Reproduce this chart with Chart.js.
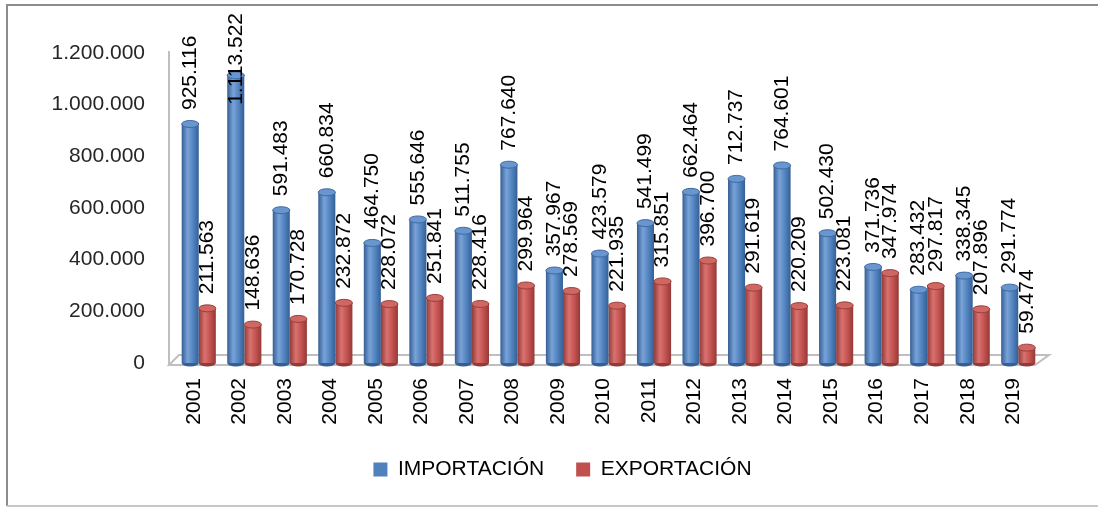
<!DOCTYPE html>
<html>
<head>
<meta charset="utf-8">
<script src="https://cdn.jsdelivr.net/npm/chart.js@4/dist/chart.umd.min.js"></script>
<style>
html,body{margin:0;padding:0;background:#fff;}
canvas{display:block;}
</style>
</head>
<body>
<canvas id="c" width="1098" height="507"></canvas>
<script>
const categories = ['2001','2002','2003','2004','2005','2006','2007','2008','2009','2010','2011','2012','2013','2014','2015','2016','2017','2018','2019'];
const importacion = [925116,1113522,591483,660834,464750,555646,511755,767640,357967,423579,541499,662464,712737,764601,502430,371736,283432,338345,291774];
const exportacion = [211563,148636,170728,232872,228072,251841,228416,299964,278569,221935,315851,396700,291619,220209,223081,347974,297817,207896,59474];
const seriesNames = ['IMPORTACIÓN','EXPORTACIÓN'];
const yTickValues = [0,200000,400000,600000,800000,1000000,1200000];

function fmt(v){ return String(Math.round(v)).replace(/\B(?=(\d{3})+(?!\d))/g,'.'); }

const palettes = [
  {base:'#4F81BD', dark:'#355f94', light:'#79a3d8', cap:'#6a96cf', capEdge:'#3d6aa3'},
  {base:'#C0504D', dark:'#923a38', light:'#d9726f', cap:'#cf6763', capEdge:'#9c3f3c'}
];

function barGradient(ctx, dsIndex){
  const chart = ctx.chart;
  const p = palettes[dsIndex];
  const xs = chart.scales && chart.scales.x;
  if (!chart.chartArea || !xs || ctx.dataIndex === undefined) return p.base;
  const cw = (xs.right - xs.left) / categories.length;
  const w = cw * 0.75 / 2;
  const cx = xs.getPixelForValue(ctx.dataIndex);
  const x0 = dsIndex === 0 ? cx - w : cx;
  const g = chart.ctx.createLinearGradient(x0, 0, x0 + w, 0);
  g.addColorStop(0, p.dark);
  g.addColorStop(0.35, p.light);
  g.addColorStop(0.7, p.base);
  g.addColorStop(1, p.dark);
  return g;
}

const decor = {
  id:'decor',
  afterLayout(chart){
    if (chart.legend) { chart.legend.left += 22; chart.legend.right += 22; }
  },
  beforeDraw(chart){
    const c = chart.ctx;
    c.save();
    c.fillStyle = '#fff';
    c.fillRect(0,0,chart.width,chart.height);
    c.strokeStyle = '#8c8c8c';
    c.lineWidth = 2;
    c.beginPath();
    c.moveTo(7, 506); c.lineTo(7, 5); c.lineTo(1098, 5);
    c.stroke();
    c.strokeStyle = '#c8c8c8';
    c.beginPath();
    c.moveTo(7, 506); c.lineTo(1098, 506);
    c.stroke();
    c.restore();
  },
  beforeDatasetsDraw(chart){
    const c = chart.ctx;
    const a = chart.chartArea;
    const yb = chart.scales.y.getPixelForValue(0);
    c.save();
    c.strokeStyle = '#bfbfbf';
    c.lineWidth = 2;
    c.beginPath();
    c.moveTo(a.left - 7, a.top - 2);
    c.lineTo(a.left - 7, yb + 2);
    c.stroke();
    c.fillStyle = '#ffffff';
    c.beginPath();
    c.moveTo(a.left - 7, yb + 2);
    c.lineTo(a.right - 6, yb + 2);
    c.lineTo(a.right + 8, yb - 8);
    c.lineTo(a.left + 3, yb - 8);
    c.closePath();
    c.fill();
    c.stroke();
    c.restore();
  },
  afterDatasetsDraw(chart){
    const c = chart.ctx;
    c.save();
    chart.data.datasets.forEach((ds, di) => {
      const meta = chart.getDatasetMeta(di);
      const p = palettes[di];
      meta.data.forEach((bar) => {
        const w = bar.width;
        const rx = w / 2, ry = 3.5;
        c.fillStyle = p.dark;
        c.beginPath();
        c.ellipse(bar.x, bar.base, rx, ry, 0, 0, Math.PI);
        c.fill();
        c.fillStyle = p.cap;
        c.strokeStyle = p.capEdge;
        c.lineWidth = 1;
        c.beginPath();
        c.ellipse(bar.x, bar.y, rx, ry, 0, 0, Math.PI * 2);
        c.fill();
        c.stroke();
      });
    });
    c.font = '21px "Liberation Sans", Arial, sans-serif';
    c.fillStyle = '#000';
    c.textAlign = 'left';
    c.textBaseline = 'middle';
    chart.data.datasets.forEach((ds, di) => {
      const meta = chart.getDatasetMeta(di);
      meta.data.forEach((bar, i) => {
        const txt = fmt(ds.data[i]);
        const tw = c.measureText(txt).width;
        let start = bar.y - 14;
        if (start - tw < 13) start = 13 + tw;
        c.save();
        c.translate(bar.x, start);
        c.rotate(-Math.PI / 2);
        c.fillText(txt, 0, 0);
        c.restore();
      });
    });
    c.restore();
  }
};

Chart.defaults.font.family = '"Liberation Sans", Arial, sans-serif';
Chart.defaults.font.size = 21;
Chart.defaults.color = '#262626';

new Chart(document.getElementById('c'), {
  type: 'bar',
  data: {
    labels: categories,
    datasets: [
      { label: seriesNames[0], data: importacion, backgroundColor: (ctx) => barGradient(ctx, 0), borderWidth: 0 },
      { label: seriesNames[1], data: exportacion, backgroundColor: (ctx) => barGradient(ctx, 1), borderWidth: 0 }
    ]
  },
  options: {
    responsive: false,
    animation: false,
    events: [],
    categoryPercentage: 0.75,
    barPercentage: 1.0,
    layout: { padding: { left: 40, right: 57, top: 53, bottom: 17 } },
    plugins: {
      tooltip: { enabled: false },
      legend: {
        position: 'bottom',
        labels: {
          boxWidth: 14, boxHeight: 14, padding: 32,
          color: '#1a1a1a',
          font: { size: 21 },
          generateLabels(chart){
            return chart.data.datasets.map((ds, i) => ({
              text: ds.label, fillStyle: palettes[i].base, strokeStyle: palettes[i].base,
              lineWidth: 0, hidden: false, datasetIndex: i
            }));
          }
        }
      }
    },
    scales: {
      x: {
        grid: { display: false, drawTicks: false },
        border: { display: false },
        ticks: { minRotation: 90, maxRotation: 90, padding: 15, labelOffset: -5, color: '#000', font: { size: 21 } },
        afterFit(scale){ scale.height = 64; }
      },
      y: {
        min: 0, max: 1200000,
        afterBuildTicks(scale){ scale.ticks = yTickValues.map(v => ({ value: v })); },
        grid: { display: false, drawTicks: false },
        border: { display: false },
        ticks: { padding: 31, color: '#262626', font: { size: 21 }, callback: (v) => fmt(v) },
        afterFit(scale){ scale.width = 136; }
      }
    }
  },
  plugins: [decor]
});
</script>
</body>
</html>
